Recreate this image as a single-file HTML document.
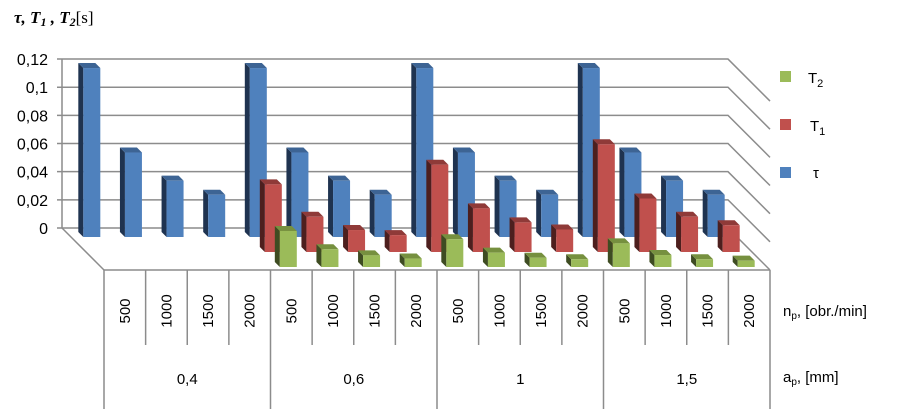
<!DOCTYPE html>
<html><head><meta charset="utf-8"><style>
html,body{margin:0;padding:0;background:#fff;width:912px;height:409px;overflow:hidden}
svg{display:block;font-family:"Liberation Sans",sans-serif}
</style></head><body>
<svg id="c" width="912" height="409" xmlns="http://www.w3.org/2000/svg">
<text x="14" y="23" font-family="Liberation Serif" font-size="17" font-style="italic" font-weight="bold">τ, T<tspan font-size="12" dy="3">1</tspan><tspan dy="-3"> , T</tspan><tspan font-size="12" dy="3">2</tspan><tspan dy="-3" font-style="normal" font-weight="normal">[s]</tspan></text>
<g id="grid"></g><g id="bars"></g><g id="axis"></g>
<g>
<rect x="780" y="71" width="11" height="11" fill="#9bbb59"/>
<text x="808" y="83" font-size="15">T<tspan font-size="11" dy="4">2</tspan></text>
<rect x="780" y="119" width="11" height="11" fill="#c0504d"/>
<text x="810" y="131" font-size="15">T<tspan font-size="11" dy="4">1</tspan></text>
<rect x="780" y="167" width="11" height="11" fill="#4f81bd"/>
<text x="813" y="178" font-size="15">τ</text>
</g>
<text x="783" y="316" font-size="15" fill="#000">n<tspan font-size="10" dy="3">p</tspan><tspan dy="-3">, [obr./min]</tspan></text>
<text x="783" y="382" font-size="15" fill="#000">a<tspan font-size="10" dy="3">p</tspan><tspan dy="-3">, [mm]</tspan></text>
</svg>
<script>
const groups=["0,4","0,6","1","1,5"];
const speeds=["500","1000","1500","2000"];
const yTicks=["0","0,02","0,04","0,06","0,08","0,1","0,12"];
const tau=[0.12,0.06,0.04,0.03, 0.12,0.06,0.04,0.03, 0.12,0.06,0.04,0.03, 0.12,0.06,0.04,0.03];
const t1=[0,0,0,0, 0.048,0.025,0.0156,0.012, 0.062,0.031,0.021,0.016, 0.0765,0.038,0.025,0.019];
const t2=[0,0,0,0, 0.0256,0.0126,0.0083,0.006, 0.0197,0.0102,0.0066,0.0055, 0.0168,0.0085,0.0055,0.0045];
const NS="http://www.w3.org/2000/svg";
const X0=62,Y0=228,W=666,D=42,SC=1408,N=16,CW=W/N;
function yv(v){return Y0-v*SC;}
function xc(i,d){return X0+d+(i+0.5)*CW;}
function mk(tag,attrs,parent){const e=document.createElementNS(NS,tag);for(const k in attrs)e.setAttribute(k,attrs[k]);parent.appendChild(e);return e;}
const grid=document.getElementById('grid'),bars=document.getElementById('bars'),axis=document.getElementById('axis');
const gc="#8c8c8c";
mk('line',{x1:X0,y1:yv(0.12),x2:X0,y2:Y0,stroke:gc,'stroke-width':1.5},grid);
yTicks.forEach((t,k)=>{const v=k*0.02,y=yv(v);
 const p=mk('polyline',{points:`${X0-5},${y} ${X0+W},${y} ${X0+W+D},${y+D}`,fill:'none',stroke:gc,'stroke-width':1.5},grid);
 
 
 const tx=mk('text',{x:X0-14,y:y+6,'text-anchor':'end','font-size':16},grid);
 
 
 tx.textContent=t;});
mk('line',{x1:X0,y1:Y0,x2:X0+D,y2:Y0+D,stroke:gc,'stroke-width':1.5},grid);
mk('line',{x1:X0+D,y1:Y0+D,x2:X0+D+W,y2:Y0+D,stroke:gc,'stroke-width':1.5},grid);
const series=[{v:tau,d:9,c:['#4f81bd','#1f3350','#3d6494'],n:'tau'},{v:t1,d:24,c:['#c0504d','#4d1f1e','#8f3a38'],n:'t1'},{v:t2,d:39,c:['#9bbb59','#3e4c22','#76903f'],n:'t2'}];
const BW=17,BD=5;
series.forEach(s=>{s.v.forEach((v,i)=>{if(v<=0)return;
 const base=Y0+s.d, cx=xc(i,s.d), x0=cx-BW/2, top=base-v*SC;
 const g=mk('g',{},bars);
 
 
 mk('polygon',{points:`${x0},${top} ${x0-BD},${top-BD} ${x0-BD},${base-BD} ${x0},${base}`,fill:s.c[1]},g);
 mk('polygon',{points:`${x0},${top} ${x0-BD},${top-BD} ${x0+BW-BD},${top-BD} ${x0+BW},${top}`,fill:s.c[2]},g);
 mk('rect',{x:x0,y:top,width:BW,height:base-top,fill:s.c[0]},g);
});});
const FX=X0+D,FY=Y0+D;
for(let i=0;i<=N;i++){const x=FX+i*CW,major=i%4===0;
 mk('line',{x1:x,y1:FY,x2:x,y2:major?409:345,stroke:gc,'stroke-width':1.5},axis);}
for(let i=0;i<N;i++){const x=FX+(i+0.5)*CW+5,y=311;
 const t=mk('text',{x:x,y:y,'text-anchor':'middle','font-size':15,transform:`rotate(-90 ${x} ${y})`},axis);
 
 
 t.textContent=speeds[i%4];}
groups.forEach((g,k)=>{const t=mk('text',{x:FX+(k*4+2)*CW,y:384,'text-anchor':'middle','font-size':15},axis);
 
 
 t.textContent=g;});
</script>
</body></html>
